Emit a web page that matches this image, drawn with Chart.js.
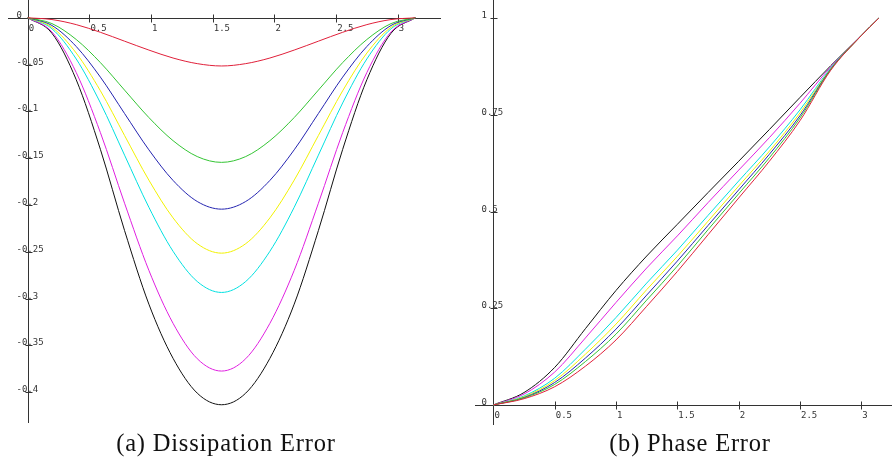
<!DOCTYPE html>
<html>
<head>
<meta charset="utf-8">
<script src="https://cdn.jsdelivr.net/npm/chart.js@4.4.1/dist/chart.umd.min.js"></script>
<style>
  body { margin: 0; background: #fff; width: 892px; height: 464px; position: relative; overflow: hidden; }
  .panel { position: absolute; top: 0; width: 446px; height: 430px; }
  .caption { position: absolute; top: 431px; width: 446px; text-align: center;
             font-family: "Liberation Serif", serif; font-size: 24.5px; line-height: 1;
             letter-spacing: 0.8px; color: #111; }
</style>
</head>
<body>
<div class="panel" style="left:0"><canvas id="grafico_disip"></canvas></div>
<div class="panel" style="left:446px"><canvas id="grafico_fase"></canvas></div>
<div class="caption" style="left:3px">(a) Dissipation Error</div>
<div class="caption" style="left:467px">(b) Phase Error</div>
<script>
// colores de las curvas (mismo orden en los dos graficos)
const colores = ['#e0203a', '#33c433', '#2424b0', '#f2f200', '#00e0e0', '#e020e0', '#111111']

// ---- error de disipacion ----
const disX = [0, 0.196, 0.393, 0.589, 0.785, 0.982, 1.178, 1.374, 1.571, 1.767, 1.963, 2.160, 2.356, 2.553, 2.749, 2.945, 3.142]
const disRojo     = [0, -0.0019, -0.0073, -0.0155, -0.0250, -0.0345, -0.0430, -0.0490, -0.0515, -0.0490, -0.0430, -0.0345, -0.0250, -0.0155, -0.0073, -0.0019, 0]
const disVerde    = [0, -0.0062, -0.0232, -0.0479, -0.0773, -0.1066, -0.1313, -0.1483, -0.1545, -0.1483, -0.1313, -0.1066, -0.0773, -0.0479, -0.0232, -0.0062, 0]
const disAzul     = [0, -0.0082, -0.0307, -0.0634, -0.1023, -0.1411, -0.1738, -0.1963, -0.2045, -0.1963, -0.1738, -0.1411, -0.1023, -0.0634, -0.0307, -0.0082, 0]
const disAmarillo = [0, -0.0101, -0.0377, -0.0780, -0.1258, -0.1735, -0.2138, -0.2414, -0.2515, -0.2414, -0.2138, -0.1735, -0.1258, -0.0780, -0.0377, -0.0101, 0]
const disCian     = [0, -0.0117, -0.0440, -0.0910, -0.1468, -0.2025, -0.2495, -0.2818, -0.2935, -0.2818, -0.2495, -0.2025, -0.1468, -0.0910, -0.0440, -0.0117, 0]
const disMagenta  = [0, -0.0151, -0.0585, -0.1227, -0.1982, -0.2699, -0.3265, -0.3643, -0.3775, -0.3643, -0.3265, -0.2699, -0.1982, -0.1227, -0.0585, -0.0151, 0]
const disNegro    = [0, -0.0165, -0.0662, -0.1406, -0.2274, -0.3060, -0.3639, -0.4011, -0.4135, -0.4011, -0.3639, -0.3060, -0.2274, -0.1406, -0.0662, -0.0165, 0]
const disTicksX = [0, 0.5, 1, 1.5, 2, 2.5, 3]
const disTicksY = [0, -0.05, -0.1, -0.15, -0.2, -0.25, -0.3, -0.35, -0.4]

// ---- error de fase ----
const faseX = [0, 0.25, 0.5, 0.75, 1, 1.25, 1.5, 1.75, 2, 2.25, 2.5, 2.75, 3, 3.142]
const faseRojo     = [0, 0.016, 0.047, 0.100, 0.168, 0.255, 0.345, 0.440, 0.535, 0.630, 0.735, 0.865, 0.955, 1]
const faseVerde    = [0, 0.018, 0.053, 0.112, 0.183, 0.271, 0.359, 0.453, 0.546, 0.639, 0.742, 0.867, 0.955, 1]
const faseAzul     = [0, 0.019, 0.058, 0.121, 0.196, 0.284, 0.372, 0.464, 0.556, 0.648, 0.748, 0.868, 0.955, 1]
const faseAmarillo = [0, 0.021, 0.063, 0.131, 0.209, 0.298, 0.384, 0.475, 0.566, 0.656, 0.755, 0.869, 0.955, 1]
const faseCian     = [0, 0.023, 0.069, 0.144, 0.226, 0.315, 0.400, 0.490, 0.579, 0.667, 0.763, 0.871, 0.955, 1]
const faseMagenta  = [0, 0.028, 0.085, 0.173, 0.265, 0.354, 0.437, 0.523, 0.607, 0.691, 0.780, 0.874, 0.955, 1]
const faseNegro    = [0, 0.032, 0.097, 0.197, 0.296, 0.385, 0.467, 0.549, 0.630, 0.712, 0.795, 0.877, 0.955, 1]
const faseTicksX = [0, 0.5, 1, 1.5, 2, 2.5, 3]
const faseTicksY = [0, 0.25, 0.5, 0.75, 1]

// ejes cruzados en el origen, con marcas y etiquetas pequeñas
const ejes = {
  id: 'ejes',
  beforeDatasetsDraw(chart, args, opts) {
    const {ctx, chartArea, scales: {x, y}} = chart
    const x0 = Math.round(x.getPixelForValue(0)) + 0.5
    const y0 = Math.round(y.getPixelForValue(0)) + 0.5
    ctx.save()
    ctx.strokeStyle = '#333'
    ctx.lineWidth = 1
    ctx.beginPath()
    ctx.moveTo(chartArea.left, y0); ctx.lineTo(chartArea.right, y0)
    ctx.moveTo(x0, chartArea.top); ctx.lineTo(x0, chartArea.bottom)
    opts.ticksX.forEach(v => {
      if (v === 0) return
      const px = Math.round(x.getPixelForValue(v)) + 0.5
      ctx.moveTo(px, y0 - 4); ctx.lineTo(px, y0 + 4)
    })
    opts.ticksY.forEach(v => {
      if (v === 0) return
      const py = Math.round(y.getPixelForValue(v)) + 0.5
      ctx.moveTo(x0 - 3, py); ctx.lineTo(x0 + 4, py)
    })
    ctx.stroke()

    ctx.fillStyle = '#333'
    ctx.font = '9px "DejaVu Sans Mono"'
    ctx.textAlign = 'left'
    ctx.textBaseline = 'top'
    opts.ticksX.forEach(v => ctx.fillText(String(v), x.getPixelForValue(v) + 1, y0 + 6))
    ctx.textBaseline = 'alphabetic'
    opts.ticksY.forEach(v => ctx.fillText(String(v), x0 - 12, y.getPixelForValue(v)))
    ctx.restore()
  }
}

function serie(xs, ys, color) {
  return {
    data: xs.map((v, i) => ({x: v, y: ys[i]})),
    borderColor: color,
    borderWidth: 1,
    pointRadius: 0,
    cubicInterpolationMode: 'monotone',
    fill: false
  }
}

function grafico(id, xs, series, rangoX, rangoY, padding, ticksX, ticksY) {
  const ctx = document.getElementById(id).getContext('2d')
  return new Chart(ctx, {
    type: 'line',
    data: { datasets: series.map((ys, i) => serie(xs, ys, colores[i])) },
    options: {
      responsive: true,
      maintainAspectRatio: false,
      animation: false,
      layout: { padding },
      scales: {
        x: { type: 'linear', min: rangoX[0], max: rangoX[1], display: false },
        y: { type: 'linear', min: rangoY[0], max: rangoY[1], display: false }
      },
      plugins: {
        legend: { display: false },
        tooltip: { enabled: false },
        ejes: { ticksX, ticksY }
      }
    },
    plugins: [ejes]
  })
}

grafico('grafico_disip', disX,
  [disRojo, disVerde, disAzul, disAmarillo, disCian, disMagenta, disNegro],
  [-0.16, 3.35], [-0.433, 0.019], {left: 8, right: 5, top: 0, bottom: 7},
  disTicksX, disTicksY)

grafico('grafico_fase', faseX,
  [faseRojo, faseVerde, faseAzul, faseAmarillo, faseCian, faseMagenta, faseNegro],
  [-0.15, 3.25], [-0.052, 1.047], {left: 29, right: 0, top: 0, bottom: 5},
  faseTicksX, faseTicksY)
</script>
</body>
</html>
